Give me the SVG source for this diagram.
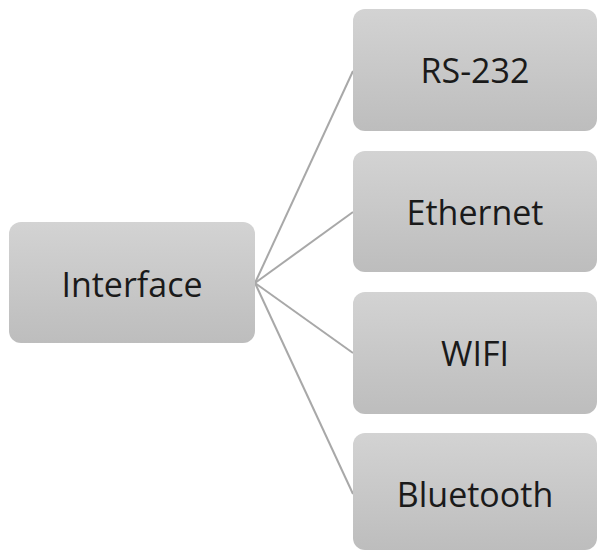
<svg xmlns="http://www.w3.org/2000/svg" width="598" height="551" viewBox="0 0 598 551">
<defs>
<linearGradient id="g" x1="0" y1="0" x2="0" y2="1">
<stop offset="0" stop-color="#d3d3d3"/>
<stop offset="1" stop-color="#bdbdbd"/>
</linearGradient>
<style>
.box{fill:url(#g);}
.lbl{font-family:"Open Sans","Noto Sans",sans-serif;font-size:34px;fill:#1a1a1a;text-anchor:middle;dominant-baseline:central;}
.edge{stroke:#a8a8a8;stroke-width:2;fill:none;}
</style>
</defs>
<rect width="598" height="551" fill="#ffffff"/>
<g id="connectors">
<line class="edge" x1="255" y1="283" x2="353" y2="71"/>
<line class="edge" x1="255" y1="283" x2="353" y2="212"/>
<line class="edge" x1="255" y1="283" x2="353" y2="353"/>
<line class="edge" x1="255" y1="283" x2="353" y2="494"/>
</g>
<g id="interface">
<rect class="box" x="9" y="222" width="246" height="121" rx="12"/>
<text class="lbl" x="132" y="284">Interface</text>
</g>
<g id="rs232">
<rect class="box" x="353" y="9" width="244" height="122" rx="12"/>
<text class="lbl" x="475" y="70">RS-232</text>
</g>
<g id="ethernet">
<rect class="box" x="353" y="151" width="244" height="121" rx="12"/>
<text class="lbl" x="475" y="212">Ethernet</text>
</g>
<g id="wifi">
<rect class="box" x="353" y="292" width="244" height="122" rx="12"/>
<text class="lbl" x="475" y="353">WIFI</text>
</g>
<g id="bluetooth">
<rect class="box" x="353" y="433" width="244" height="117" rx="12"/>
<text class="lbl" x="475" y="494">Bluetooth</text>
</g>
</svg>
